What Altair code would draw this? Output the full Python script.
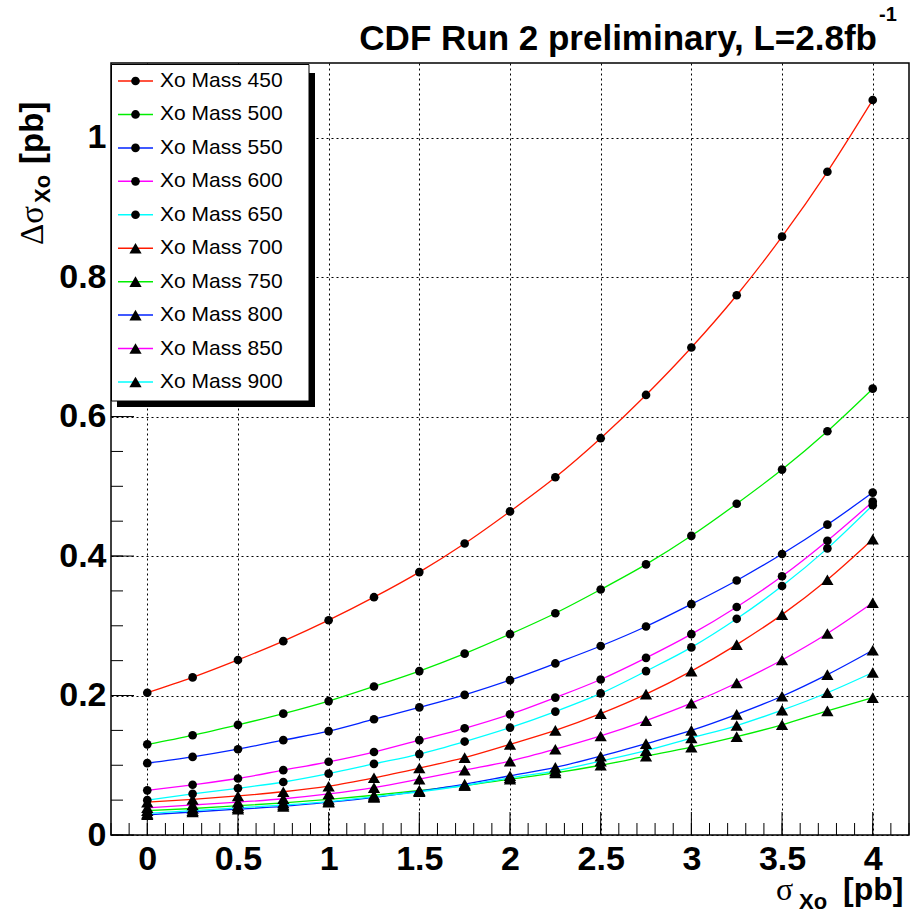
import altair as alt
import pandas as pd

# ---------------- data ----------------
x_vals = [0, 0.25, 0.5, 0.75, 1, 1.25, 1.5, 1.75, 2, 2.25, 2.5, 2.75, 3, 3.25, 3.5, 3.75, 4]

m450 = [0.204, 0.226, 0.251, 0.278, 0.308, 0.341, 0.377, 0.418, 0.464, 0.513, 0.569, 0.631, 0.699, 0.774, 0.858, 0.951, 1.054]
m500 = [0.130, 0.143, 0.158, 0.174, 0.192, 0.213, 0.235, 0.260, 0.288, 0.318, 0.352, 0.388, 0.429, 0.475, 0.524, 0.579, 0.640]
m550 = [0.103, 0.112, 0.123, 0.136, 0.149, 0.166, 0.183, 0.201, 0.222, 0.246, 0.271, 0.299, 0.331, 0.365, 0.403, 0.445, 0.491]
m600 = [0.064, 0.072, 0.081, 0.093, 0.105, 0.119, 0.136, 0.153, 0.173, 0.197, 0.223, 0.254, 0.288, 0.327, 0.371, 0.422, 0.478]
m650 = [0.050, 0.059, 0.067, 0.076, 0.088, 0.102, 0.116, 0.134, 0.154, 0.177, 0.203, 0.235, 0.269, 0.310, 0.357, 0.411, 0.473]
m700 = [0.047, 0.051, 0.056, 0.062, 0.070, 0.082, 0.096, 0.111, 0.130, 0.150, 0.174, 0.202, 0.235, 0.273, 0.316, 0.366, 0.424]
m750 = [0.035, 0.038, 0.042, 0.046, 0.051, 0.057, 0.064, 0.071, 0.080, 0.089, 0.100, 0.113, 0.126, 0.141, 0.158, 0.178, 0.197]
m800 = [0.029, 0.033, 0.037, 0.041, 0.047, 0.054, 0.063, 0.073, 0.085, 0.097, 0.113, 0.131, 0.150, 0.173, 0.199, 0.230, 0.265]
m850 = [0.039, 0.043, 0.047, 0.052, 0.059, 0.068, 0.080, 0.093, 0.106, 0.123, 0.142, 0.164, 0.189, 0.218, 0.251, 0.289, 0.333]
m900 = [0.031, 0.035, 0.039, 0.043, 0.048, 0.055, 0.062, 0.071, 0.082, 0.092, 0.106, 0.121, 0.139, 0.157, 0.179, 0.204, 0.233]

masses = [450, 500, 550, 600, 650, 700, 750, 800, 850, 900]
series_vals = [m450, m500, m550, m600, m650, m700, m750, m800, m850, m900]
names = [f"Xo Mass {m}" for m in masses]
colors = ["#ff1a00", "#00ee00", "#0022ff", "#ff00ff", "#00ffff",
          "#ff1a00", "#00ee00", "#0022ff", "#ff00ff", "#00ffff"]
kinds = ["circle"] * 5 + ["triangle"] * 5

x_major = [0, 0.5, 1, 1.5, 2, 2.5, 3, 3.5, 4]
x_minor = [round(-0.2 + 0.1 * i, 1) for i in range(45)]
y_major = [0, 0.2, 0.4, 0.6, 0.8, 1.0]
y_minor = [round(0.05 * i, 2) for i in range(23)]

rows = []
for name, vals, kind in zip(names, series_vals, kinds):
    for xv, yv in zip(x_vals, vals):
        rows.append({"x": xv, "y": yv, "series": name, "kind": kind})
df = pd.DataFrame(rows)

leg_df = pd.DataFrame({"series": names, "kind": kinds, "row": list(range(len(names)))})
one = pd.DataFrame({"a": [0]})

W, H = 798, 772
FONT = "Liberation Sans"

xscale = alt.Scale(domain=[-0.2, 4.2], nice=False, zero=False)
yscale = alt.Scale(domain=[0, 1.107], nice=False, zero=False)
color = alt.Color("series:N", scale=alt.Scale(domain=names, range=colors), legend=None)
shape = alt.Shape("kind:N", scale=alt.Scale(domain=["circle", "triangle"], range=["circle", "triangle-up"]), legend=None)
size = alt.Size("kind:N", scale=alt.Scale(domain=["circle", "triangle"], range=[75, 150]), legend=None)

x_axis = alt.Axis(
    values=x_major, format="~g", title=None, ticks=False, domain=False,
    grid=True, gridDash=[2, 3], gridColor="black", gridOpacity=1, gridWidth=1,
    labelFont=FONT, labelFontWeight="bold", labelFontSize=34, labelColor="black",
    labelPadding=7, labelFlush=False)
y_axis = alt.Axis(
    values=y_major, format="~g", title=None, ticks=False, domain=False,
    grid=True, gridDash=[2, 3], gridColor="black", gridOpacity=1, gridWidth=1,
    labelFont=FONT, labelFontWeight="bold", labelFontSize=34, labelColor="black",
    labelPadding=5, labelFlush=False)

def X(field):
    return alt.X(field, scale=xscale, axis=x_axis)

def Y(field):
    return alt.Y(field, scale=yscale, axis=y_axis)

lines = alt.Chart(df).mark_line(interpolate="monotone", strokeWidth=1.3).encode(
    x=X("x:Q"), y=Y("y:Q"), color=color, detail="series:N")

points = alt.Chart(df).mark_point(filled=True, color="black", opacity=1).encode(
    x=X("x:Q"), y=Y("y:Q"), shape=shape, size=size)

xt_major = alt.Chart(pd.DataFrame({"v": x_major})).mark_rule(color="black", strokeWidth=1).encode(
    x=X("v:Q"), y=alt.value(H), y2=alt.value(H - 23))
xt_minor = alt.Chart(pd.DataFrame({"v": x_minor})).mark_rule(color="black", strokeWidth=1).encode(
    x=X("v:Q"), y=alt.value(H), y2=alt.value(H - 12))
yt_major = alt.Chart(pd.DataFrame({"v": y_major})).mark_rule(color="black", strokeWidth=1).encode(
    y=Y("v:Q"), x=alt.value(0), x2=alt.value(23))
yt_minor = alt.Chart(pd.DataFrame({"v": y_minor})).mark_rule(color="black", strokeWidth=1).encode(
    y=Y("v:Q"), x=alt.value(0), x2=alt.value(12))

def txt(text, x, y, size, weight="bold", font=FONT, align="left", angle=0, baseline="alphabetic"):
    kw = dict(text=text, fontSize=size, fontWeight=weight, font=font, align=align,
              baseline=baseline, color="black")
    if angle:
        kw["angle"] = angle
    return alt.Chart(one).mark_text(**kw).encode(x=alt.value(x), y=alt.value(y))

OX, OY = 111, 63  # page origin of plot area
titles = [
    txt("CDF Run 2 preliminary, L=2.8fb", 877 - OX, 50 - OY, 35, align="right"),
    txt("-1", 879 - OX, 21 - OY, 20),
    # x-axis title
    txt("σ", 776 - OX, 900 - OY, 32, weight="normal", font="Liberation Serif"),
    txt("Xo", 799 - OX, 909 - OY, 22),
    txt("[pb]", 843 - OX, 900 - OY, 32),
    # y-axis title (rotated)
    txt("Δσ", 43 - OX, 245 - OY, 33, weight="normal", font="Liberation Serif", angle=270),
    txt("Xo", 50 - OX, 203 - OY, 22, angle=270),
    txt("[pb]", 43 - OX, 164 - OY, 33, angle=270),
]

main = alt.layer(lines, points, xt_major, xt_minor, yt_major, yt_minor, *titles)

# ---------------- legend ----------------
leg_y = alt.Scale(domain=[0, 9], range=[18, 319])
LY = alt.Y("row:Q", scale=leg_y, axis=None)
shadow = alt.Chart(one).mark_rect(color="black").encode(
    x=alt.value(6), x2=alt.value(204), y=alt.value(10), y2=alt.value(344))
box = alt.Chart(one).mark_rect(fill="white", stroke="black", strokeWidth=1).encode(
    x=alt.value(0.5), x2=alt.value(198), y=alt.value(1.5), y2=alt.value(338))
leg_lines = alt.Chart(leg_df).mark_rule(strokeWidth=1.5).encode(
    x=alt.value(7), x2=alt.value(42), y=LY, color=color)
leg_pts = alt.Chart(leg_df).mark_point(filled=True, color="black", opacity=1).encode(
    x=alt.value(24.5), y=LY, shape=shape, size=size)
leg_txt = alt.Chart(leg_df).mark_text(align="left", baseline="middle", font=FONT,
                                      fontSize=21, color="black").encode(
    x=alt.value(49), y=LY, text="series:N")
legend = alt.layer(shadow, box, leg_lines, leg_pts, leg_txt)

chart = alt.layer(main, legend).resolve_scale(y="independent").properties(
    width=W, height=H,
    padding={"left": OX, "top": OY, "right": 910 - OX - W, "bottom": 915 - OY - H},
    autosize=alt.AutoSizeParams(type="none"),
    background="white",
).configure_view(stroke="black", strokeWidth=1.5)

chart.save("out.html", embed_options={"renderer": "svg", "actions": False})
